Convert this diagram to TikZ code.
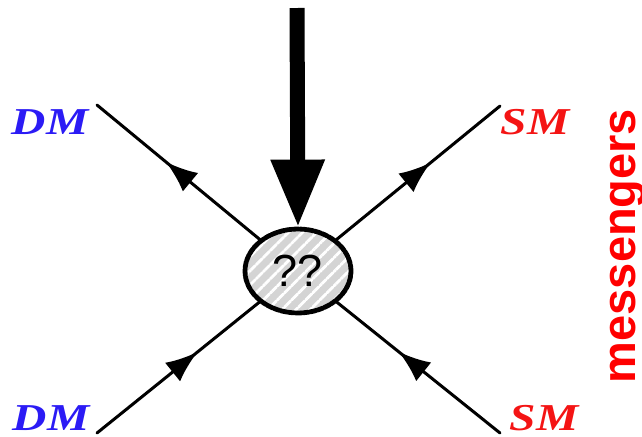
\documentclass[tikz,border=0pt]{standalone}
\usepackage{fontspec}
\newfontfamily\labelsans{Liberation Sans}
\newfontfamily\labelserif[FakeStretch=1.25]{Liberation Serif}
\usetikzlibrary{arrows.meta, shapes.geometric, decorations.markings, patterns.meta}
\definecolor{dmblue}{HTML}{2B1BF5}
\definecolor{smred}{HTML}{F41414}
\definecolor{msgred}{HTML}{FF0000}

\begin{document}
\begin{tikzpicture}[
  x=0.5pt, y=0.5pt,
  line cap=round, line join=round,
  blob/.style={ellipse, minimum width=53pt, minimum height=42pt, inner sep=0pt,
    draw=black, line width=2.4pt, dash pattern=on 3pt off 0.7pt,
    preaction={fill=black!17},
    pattern={Lines[angle=45, distance=5pt, line width=1.4pt]}, pattern color=white,
    font=\labelsans\fontsize{22.5}{24}\selectfont},
  fermion/.style={line width=1.5pt, postaction={decorate},
    decoration={markings, mark=at position #1 with {\arrow{Latex[length=16pt, width=12pt]}}}},
  probe/.style={line width=7.5pt, line cap=butt, -{Triangle[length=34pt, width=25pt]}},
  dmlab/.style={text=dmblue, inner sep=0pt, font=\labelserif\bfseries\itshape\fontsize{19}{20}\selectfont},
  smlab/.style={text=smred, inner sep=0pt, font=\labelserif\bfseries\itshape\fontsize{19}{20}\selectfont},
  msg/.style={text=msgred, font=\labelsans\bfseries\fontsize{23.5}{26}\selectfont},
]
\useasboundingbox (0,0) rectangle (642,436);

% the unknown vertex
\node[blob] (vtx) at (298,165) {??};

% free ends of the four legs
\coordinate (tl) at (97,331);
\coordinate (bl) at (97,3);
\coordinate (tr) at (500,330);
\coordinate (br) at (500,3);

% legs, fermion flow through the vertex
\draw[fermion=0.62] (bl) -- (vtx);
\draw[fermion=0.58] (vtx) -- (tl);
\draw[fermion=0.62] (br) -- (vtx);
\draw[fermion=0.58] (vtx) -- (tr);

% labels
\node[dmlab] (dmT) at (50,314) {DM};
\node[dmlab] (dmB) at (51,18) {DM};
\node[smlab] (smT) at (535,314) {SM};
\node[smlab] (smB) at (544,18) {SM};

% big arrow from above
\coordinate (src) at (297,428);
\draw[probe] (src) -- (vtx.north);

\node[msg, rotate=90, anchor=base] (mes) at (635,190) {messengers};
\end{tikzpicture}
\end{document}
